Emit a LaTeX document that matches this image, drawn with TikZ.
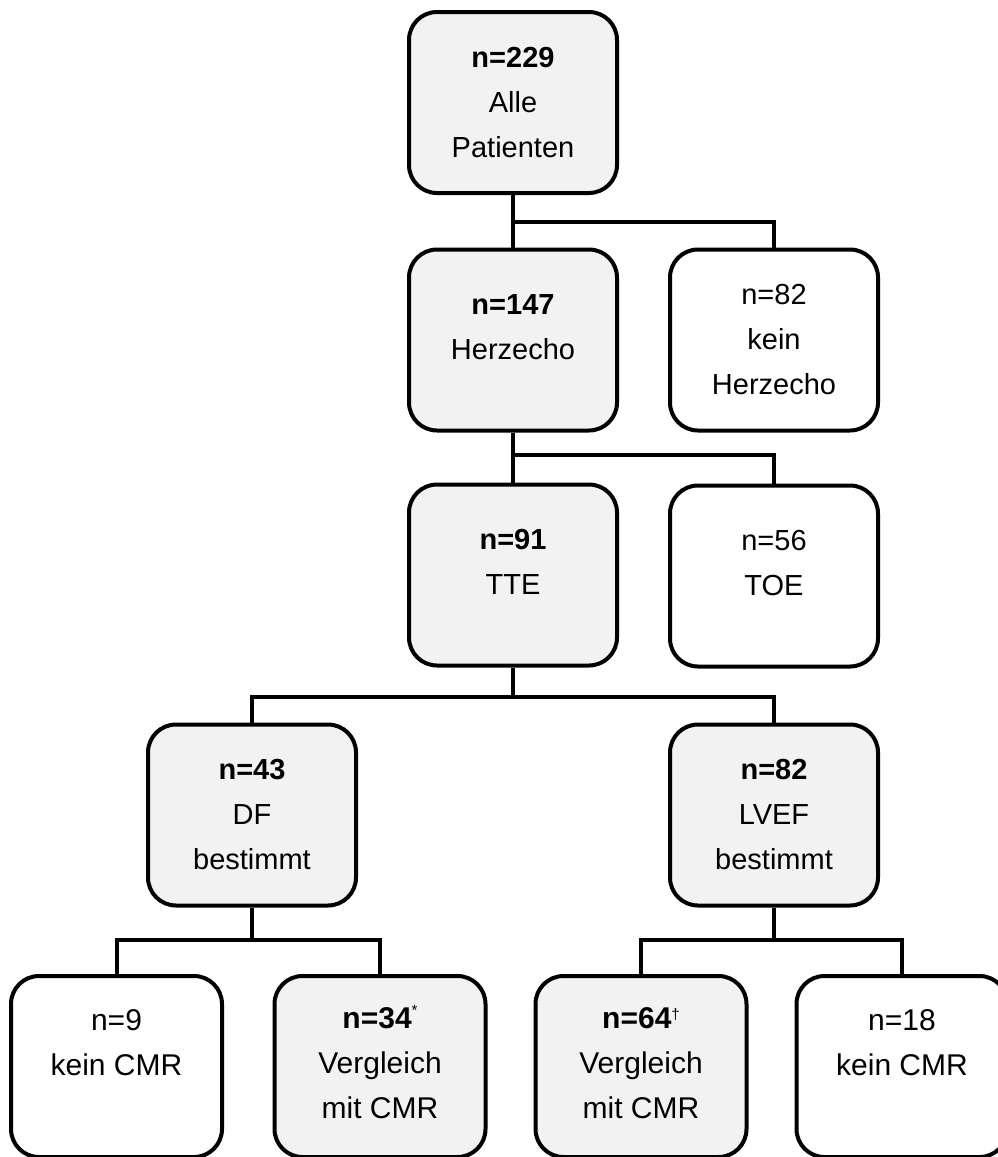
\documentclass[tikz,border=0pt]{standalone}
\usepackage{fontspec}
\setmainfont{Liberation Sans}
\definecolor{boxgray}{HTML}{F2F2F2}
\newcommand\bx[2]{\parbox[c][181pt][t]{206pt}{\centering\rule{0pt}{#1pt}#2}}
\newcommand\supstar{\raisebox{13pt}{\fontsize{15}{15}\selectfont\mdseries *}}
\newcommand\supdag{\raisebox{9pt}{\fontsize{15}{15}\selectfont\mdseries †}}
\tikzset{
  box/.style={draw=black, line width=4pt, rounded corners=28pt,
    minimum width=208pt, minimum height=181pt, inner sep=0pt,
    font=\fontsize{29}{45}\selectfont},
  shaded/.style={box, fill=boxgray},
  plain/.style={box, fill=white},
  wide/.style={minimum width=211pt, font=\fontsize{30}{45}\selectfont},
  link/.style={line width=4pt},
}
\begin{document}
\begin{tikzpicture}[x=1pt,y=-1pt]
\useasboundingbox (0,0) rectangle (998,1157);
% boxes
\node[shaded] (A)  at (513,102.5) {\bx{55}{\textbf{n=229}\\Alle\\Patienten}};
\node[shaded] (B1) at (513,340)   {\bx{65}{\textbf{n=147}\\Herzecho}};
\node[plain]  (B2) at (774,340)   {\bx{55}{n=82\\kein\\Herzecho}};
\node[shaded] (C1) at (513,575)   {\bx{65}{\textbf{n=91}\\TTE}};
\node[plain]  (C2) at (774,576)   {\bx{65}{n=56\\TOE}};
\node[shaded] (D1) at (252,815)   {\bx{55}{\textbf{n=43}\\DF\\bestimmt}};
\node[shaded] (D2) at (774,815)   {\bx{55}{\textbf{n=82}\\LVEF\\bestimmt}};
\node[plain,wide]  (E1) at (116.5,1066.5) {\bx{54}{n=9\\kein CMR}};
\node[shaded,wide] (E2) at (380,1066.5)   {\bx{52}{\textbf{n=34}\supstar\\Vergleich\\mit CMR}};
\node[shaded,wide] (E3) at (641,1066.5)   {\bx{52}{\textbf{n=64}\supdag\\Vergleich\\mit CMR}};
\node[plain,wide]  (E4) at (902,1066.5)   {\bx{54}{n=18\\kein CMR}};
% junctions
\coordinate (jA) at (513,222);
\coordinate (jB) at (513,455);
\coordinate (jC) at (513,697);
\coordinate (jD1) at (252,940);
\coordinate (jD2) at (774,940);
% connectors
\draw[link] (A.south) -- (jA) -- (B1.north);
\draw[link] (jA) -| (B2.north);
\draw[link] (B1.south) -- (jB) -- (C1.north);
\draw[link] (jB) -| (C2.north);
\draw[link] (C1.south) -- (jC);
\draw[link] (D1.north) |- (jC) -| (D2.north);
\draw[link] (D1.south) -- (jD1);
\draw[link] (E1.north) |- (jD1) -| (E2.north);
\draw[link] (D2.south) -- (jD2);
\draw[link] (E3.north) |- (jD2) -| (E4.north);
\end{tikzpicture}
\end{document}
